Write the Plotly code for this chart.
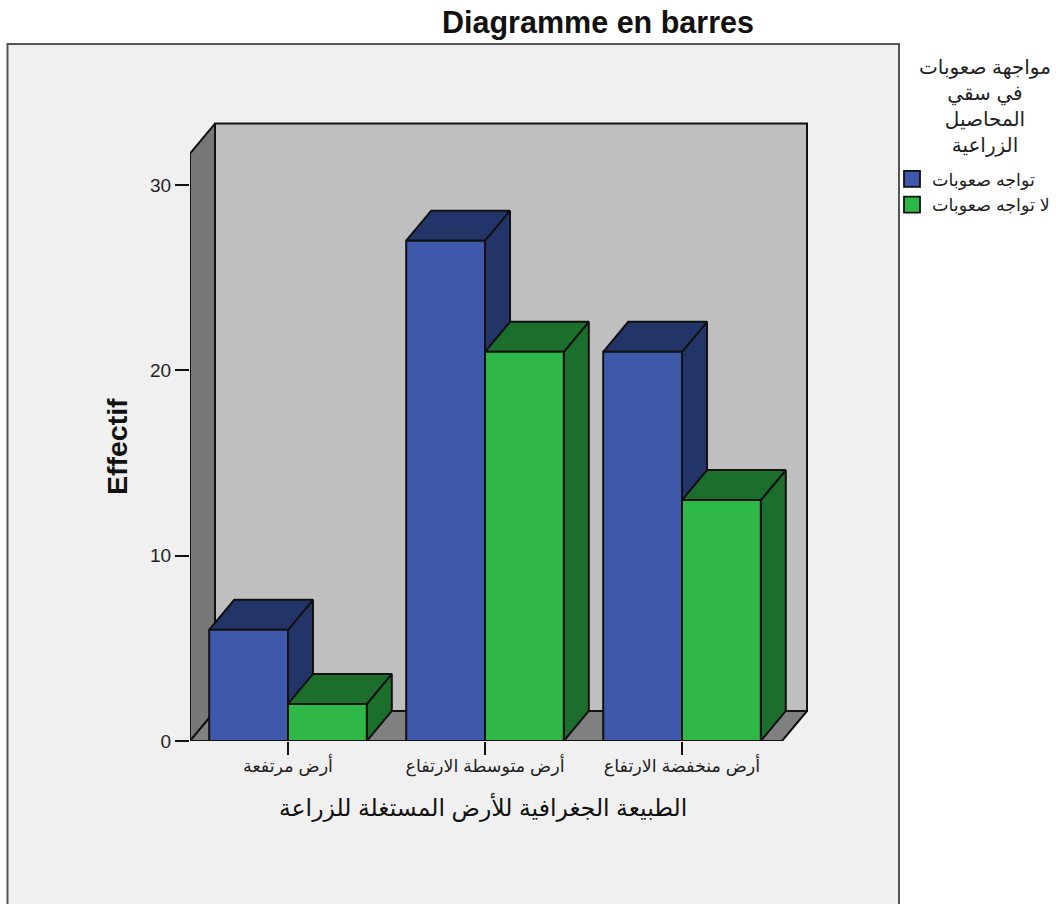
import plotly.graph_objects as go

categories = ["أرض مرتفعة", "أرض متوسطة الارتفاع", "أرض منخفضة الارتفاع"]
series_names = ["تواجه صعوبات", "لا تواجه صعوبات"]
faces_yes = [6, 27, 21]
faces_no = [2, 21, 13]
y_ticks = [0, 10, 20, 30]

W, H = 1056, 904
BLUE, BLUE_DARK = "#3E58AC", "#233468"
GREEN, GREEN_DARK = "#2EB848", "#1C6E2C"
FONT = "Liberation Sans, DejaVu Sans"

# pixel size of one unit on each axis, used to set up the ranges
PX_X, PX_Y = 197.0, 18.53
LEFT_PX, RIGHT_PX, TOP_PX, BOTTOM_PX = 190, 815, 110, 741
X0 = 288
x_min = (LEFT_PX - X0) / PX_X
x_max = (RIGHT_PX - X0) / PX_X
y_max = (BOTTOM_PX - TOP_PX) / PX_Y

depth_x = 25 / PX_X
depth_y = 30 / PX_Y
bar_w = 0.4
wall_h = 31.7
floor_r = (782 - X0) / PX_X


def face(fig, xs, ys, color):
    fig.add_trace(go.Scatter(
        x=xs + xs[:1], y=ys + ys[:1], mode="lines", fill="toself", fillcolor=color,
        line=dict(color="#111111", width=2), hoverinfo="skip",
        showlegend=False, cliponaxis=False,
    ))


def bar3d(fig, x0, v, front, dark):
    x1 = x0 + bar_w
    face(fig, [x1, x1 + depth_x, x1 + depth_x, x1], [0, depth_y, v + depth_y, v], dark)
    face(fig, [x0, x0 + depth_x, x1 + depth_x, x1], [v, v + depth_y, v + depth_y, v], dark)
    face(fig, [x0, x1, x1, x0], [0, 0, v, v], front)


fig = go.Figure()

# walls and floor
face(fig, [x_min, x_min + depth_x, x_min + depth_x, x_min], [0, depth_y, wall_h + depth_y, wall_h], "#787878")
face(fig, [x_min, x_min + depth_x, floor_r + depth_x, floor_r], [0, depth_y, depth_y, 0], "#808080")
face(fig, [x_min + depth_x, floor_r + depth_x, floor_r + depth_x, x_min + depth_x],
     [depth_y, depth_y, wall_h + depth_y, wall_h + depth_y], "#BFBFBF")

for i in range(len(categories)):
    bar3d(fig, i - bar_w, faces_yes[i], BLUE, BLUE_DARK)
    bar3d(fig, i, faces_no[i], GREEN, GREEN_DARK)

# legend entries
for name, col in zip(series_names, [BLUE, GREEN]):
    fig.add_trace(go.Scatter(
        x=[None], y=[None], mode="markers", name=name,
        marker=dict(symbol="square", size=18, color=col, line=dict(color="#111111", width=1.8)),
    ))

fig.add_shape(type="rect", xref="paper", yref="paper", x0=7.5 / W, x1=899 / W, y0=-0.02, y1=1 - 44 / H,
              fillcolor="#F0F0F0", line=dict(color="#555555", width=2), layer="below")

fig.update_layout(
    width=W, height=H, margin=dict(l=0, r=0, t=0, b=0),
    paper_bgcolor="white", plot_bgcolor="rgba(0,0,0,0)",
    font=dict(family=FONT, color="#222222"),
    xaxis=dict(
        domain=[LEFT_PX / W, RIGHT_PX / W], range=[x_min, x_max], automargin=False,
        tickmode="array", tickvals=[0, 1, 2], ticktext=categories,
        ticks="outside", ticklen=13, tickwidth=2, tickcolor="#111111", ticklabelstandoff=-4,
        tickfont=dict(size=17.5), showgrid=False, zeroline=False, showline=False,
    ),
    yaxis=dict(
        domain=[1 - BOTTOM_PX / H, 1 - TOP_PX / H], range=[0, y_max], automargin=False,
        tickmode="array", tickvals=y_ticks,
        ticks="outside", ticklen=14, tickwidth=2, tickcolor="#111111",
        tickfont=dict(size=19), showgrid=False, zeroline=False, showline=False,
    ),
    title=dict(text="<b>Diagramme en barres</b>", x=598 / W, xanchor="center", y=1 - 22 / H, yanchor="middle",
               font=dict(size=30.5, color="#111111")),
    legend=dict(
        x=892 / W, xanchor="left", y=1 - 161 / H, yanchor="top", bgcolor="rgba(0,0,0,0)",
        font=dict(size=17.5), itemwidth=30, traceorder="normal",
    ),
    annotations=[
        dict(text="<b>Effectif</b>", xref="paper", yref="paper", x=117 / W, y=1 - 447 / H, textangle=-90,
             xanchor="center", yanchor="middle", showarrow=False, font=dict(size=28.5, color="#111111")),
        dict(text="الطبيعة الجغرافية للأرض المستغلة للزراعة", xref="paper", yref="paper", x=483 / W, y=1 - 807 / H,
             xanchor="center", yanchor="middle", showarrow=False, font=dict(size=23.5, color="#111111")),
        dict(text="مواجهة صعوبات<br>في سقي<br>المحاصيل<br>الزراعية", xref="paper", yref="paper", x=985 / W,
             y=1 - 106 / H, xanchor="center", yanchor="middle", align="center", showarrow=False,
             font=dict(size=20, color="#222222")),
    ],
)

fig.write_html("out.html", config=dict(displayModeBar=False),
               post_script="document.body.style.margin = '0';")
